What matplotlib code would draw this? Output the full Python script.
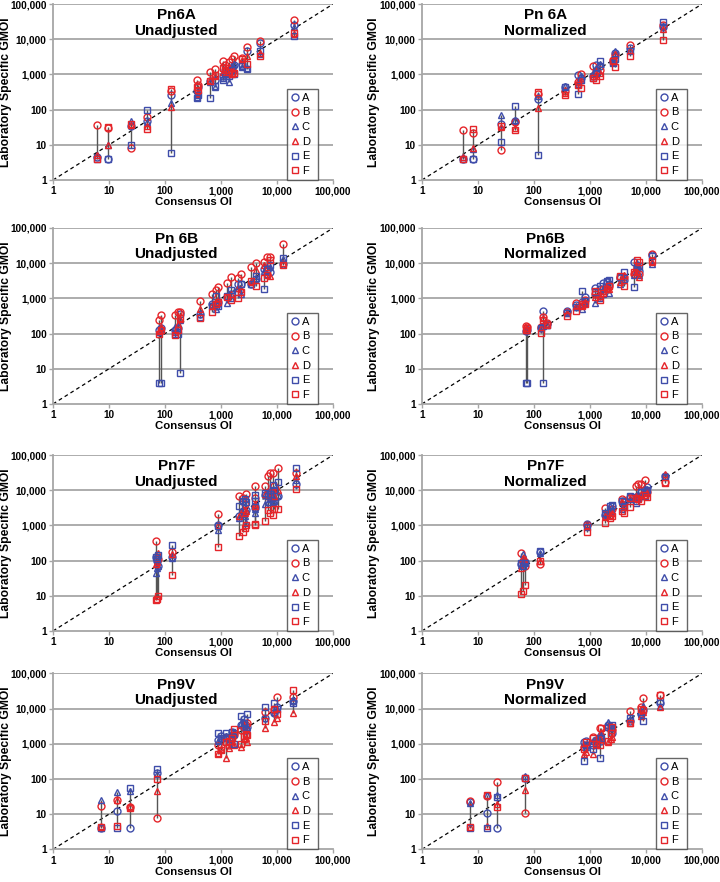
import numpy as np
import matplotlib

matplotlib.use("Agg")
import matplotlib.pyplot as plt
from matplotlib.ticker import FuncFormatter, FixedLocator, NullLocator
from matplotlib.lines import Line2D

plt.rcParams["font.family"] = ["Liberation Sans", "DejaVu Sans"]

# ======================================================
# 1. Data
#    each row = one serum, values for labs A..F
# ======================================================
labs = ["A", "B", "C", "D", "E", "F"]

pn6a_unadj_x = [6.2, 9.4, 25, 47, 126, 370, 390, 630, 790, 1100, 1200, 1380, 1550, 1670, 2350, 2900, 5000, 20000]
pn6a_unadj_y = [
    [4.5, 37, 5, 5, 4, 4],
    [4, 30, 10, 10, 4, 33],
    [35, 8, 48, 36, 10, 38],
    [48, 60, 45, 35, 100, 28],
    [260, 330, 150, 120, 6, 380],
    [330, 700, 230, 280, 220, 450],
    [450, 500, 320, 300, 260, 350],
    [650, 1200, 600, 680, 220, 650],
    [700, 1400, 450, 900, 470, 950],
    [900, 2400, 800, 1200, 700, 1500],
    [1300, 1900, 1100, 1400, 1000, 1300],
    [1000, 2300, 620, 1600, 900, 1200],
    [1500, 2800, 1700, 1100, 1300, 1000],
    [1800, 3300, 2000, 1300, 1000, 1100],
    [2000, 3000, 1600, 2600, 1700, 2800],
    [4500, 6200, 1500, 3300, 1400, 2000],
    [8000, 9200, 3800, 4000, 4500, 3300],
    [25000, 36000, 22000, 14000, 12000, 15000],
]

pn6a_norm_x = [5.5, 8.1, 26, 46, 117, 360, 610, 690, 1120, 1290, 1480, 2550, 2850, 5200, 20000]
pn6a_norm_y = [
    [4, 27, 4.5, 4.5, 4, 4],
    [4, 22, 7.5, 8, 4, 28],
    [40, 7, 70, 33, 12, 35],
    [48, 45, 50, 30, 130, 26],
    [200, 280, 250, 110, 5, 310],
    [440, 330, 480, 300, 450, 260],
    [950, 600, 550, 650, 270, 500],
    [800, 1000, 900, 700, 700, 400],
    [900, 1700, 1000, 900, 800, 800],
    [1800, 1200, 1500, 1000, 1100, 700],
    [1700, 1300, 2000, 1100, 2400, 900],
    [2200, 2500, 2200, 2600, 2100, 2400],
    [4200, 3500, 4600, 3800, 2700, 1650],
    [5500, 7000, 5000, 4800, 4500, 3300],
    [22000, 25000, 24000, 20000, 31000, 9800],
]

pn6b_unadj_x = [78, 85, 150, 170, 185, 425, 680, 800, 870, 1300, 1480, 2000, 2230, 3450, 4200, 5800, 6600, 7400, 13000]
pn6b_unadj_y = [
    [130, 240, 110, 120, 4, 100],
    [140, 340, 130, 150, 4, 130],
    [130, 340, 150, 110, 100, 90],
    [140, 400, 160, 190, 95, 130],
    [350, 420, 240, 260, 7.5, 280],
    [350, 850, 350, 500, 300, 280],
    [700, 1300, 650, 650, 600, 400],
    [600, 1700, 500, 800, 1200, 700],
    [800, 2100, 750, 900, 600, 800],
    [1100, 2700, 750, 1200, 1200, 1100],
    [1300, 4000, 1000, 1300, 1700, 900],
    [2500, 3800, 2000, 2000, 1500, 1000],
    [2600, 5000, 1300, 1800, 2500, 1500],
    [2500, 7800, 2600, 3000, 2500, 3200],
    [3500, 10000, 3800, 6500, 4200, 2200],
    [7000, 10500, 6000, 9000, 1800, 3800],
    [6500, 15000, 5000, 8000, 7000, 4500],
    [5800, 15000, 8000, 4300, 9000, 12000],
    [9500, 36000, 13000, 10000, 14000, 9000],
]

pn6b_norm_x = [72, 76, 133, 147, 170, 390, 570, 730, 810, 1250, 1500, 1730, 2000, 2180, 3460, 3980, 6000, 6900, 7400, 13000]
pn6b_norm_y = [
    [120, 160, 130, 145, 4, 125],
    [130, 150, 140, 130, 4, 140],
    [140, 150, 160, 140, 140, 105],
    [440, 300, 160, 280, 4, 250],
    [190, 200, 180, 190, 170, 170],
    [450, 420, 400, 390, 380, 320],
    [650, 750, 560, 600, 580, 430],
    [800, 700, 500, 650, 1650, 600],
    [1100, 900, 750, 800, 850, 700],
    [2000, 1300, 750, 1100, 1500, 1600],
    [1900, 1200, 1000, 1200, 2200, 900],
    [2800, 1800, 1900, 1600, 1300, 1400],
    [2900, 2000, 2600, 2000, 3100, 1800],
    [2500, 2200, 1400, 1900, 3300, 2300],
    [3700, 4000, 2600, 3000, 4000, 4200],
    [3300, 4000, 3500, 4500, 5800, 2300],
    [11000, 5000, 4500, 5500, 2100, 5500],
    [7000, 8000, 8000, 6000, 9000, 12000],
    [6000, 5000, 4500, 4000, 8500, 11000],
    [17000, 18000, 9500, 11000, 16000, 11500],
]

pn7f_unadj_x = [68, 71, 76, 135, 900, 2100, 2450, 2700, 2830, 4000, 4100, 6000, 7000, 7600, 8400, 8800, 10500, 22000]
pn7f_unadj_y = [
    [130, 350, 45, 80, 130, 7.8],
    [100, 120, 60, 90, 110, 8],
    [70, 110, 70, 160, 140, 10],
    [130, 170, 120, 150, 280, 40],
    [1050, 2100, 750, 1000, 950, 240],
    [1900, 7000, 1600, 1900, 3500, 500],
    [2500, 6000, 2100, 3000, 5000, 650],
    [2400, 4000, 1800, 2200, 5500, 850],
    [2800, 7800, 1200, 2600, 4500, 1000],
    [3200, 13000, 2300, 4000, 7500, 1050],
    [3500, 6000, 3000, 3500, 5000, 1100],
    [7500, 13000, 4000, 8000, 8500, 1300],
    [8000, 25000, 4500, 7000, 7000, 2800],
    [9000, 30000, 5500, 9000, 8000, 2200],
    [6000, 30000, 4500, 10000, 14000, 2000],
    [5000, 13000, 5000, 7000, 10000, 3000],
    [7000, 44000, 7500, 10000, 17000, 3000],
    [15000, 30000, 20000, 25000, 42000, 10500],
]

pn7f_norm_x = [58, 63, 70, 126, 900, 1860, 2300, 2450, 3720, 4000, 5250, 6500, 7300, 8300, 9800, 10300, 22000]
pn7f_norm_y = [
    [80, 160, 75, 60, 85, 11],
    [90, 95, 150, 120, 70, 14],
    [90, 70, 100, 110, 85, 20],
    [180, 80, 160, 100, 190, 95],
    [1100, 1000, 1100, 1000, 900, 650],
    [2000, 3100, 2100, 1900, 2200, 1200],
    [2500, 2000, 3600, 2000, 3500, 1600],
    [3500, 3000, 2500, 2200, 3700, 1800],
    [5000, 5800, 3000, 4500, 5000, 2500],
    [4500, 5000, 3300, 3800, 3500, 2300],
    [6500, 6000, 5500, 6000, 7000, 3400],
    [6500, 13000, 5000, 7000, 4200, 6000],
    [7000, 15000, 6000, 6500, 6000, 5500],
    [9000, 15000, 7000, 8000, 9000, 5000],
    [10000, 20000, 11000, 7000, 7000, 7500],
    [12000, 9000, 10500, 8500, 10000, 6500],
    [25000, 17000, 26000, 29000, 24000, 16000],
]

pn9v_unadj_x = [7.1, 13.8, 24, 73, 870, 1000, 1240, 1410, 1550, 1700, 2300, 2570, 2800, 2950, 6000, 8900, 9800, 19500]
pn9v_unadj_y = [
    [4, 17, 26, 4.5, 4, 4.3],
    [12, 25, 42, 25, 4, 4.7],
    [4, 16, 45, 17, 55, 15],
    [150, 8, 140, 45, 190, 100],
    [1300, 900, 1200, 550, 2000, 500],
    [1700, 800, 1500, 700, 1500, 650],
    [1600, 1500, 1700, 400, 2000, 1100],
    [1500, 900, 1200, 750, 1400, 1200],
    [2200, 1600, 2100, 1000, 2200, 1500],
    [2000, 1800, 1900, 900, 1000, 2600],
    [3500, 2500, 4000, 800, 6000, 1000],
    [5000, 3000, 4200, 1400, 4000, 1700],
    [2500, 3500, 2400, 1500, 2500, 1900],
    [3000, 4000, 3000, 1100, 7000, 1800],
    [5500, 8000, 5500, 2800, 11000, 4500],
    [7500, 9000, 8000, 4200, 14000, 9500],
    [11000, 21000, 10000, 5500, 10000, 7000],
    [16000, 22000, 18000, 7500, 14000, 33000],
]

pn9v_norm_x = [7.2, 14.4, 22, 68, 790, 850, 1120, 1290, 1480, 1600, 2100, 2400, 2500, 5100, 8100, 8900, 17500]
pn9v_norm_y = [
    [22, 24, 21, 4.3, 4, 4.3],
    [11, 33, 35, 4.5, 4, 35],
    [4, 80, 35, 20, 30, 16],
    [110, 11, 120, 50, 110, 110],
    [1100, 800, 1000, 500, 320, 700],
    [1200, 900, 800, 600, 900, 1100],
    [900, 1600, 1200, 500, 700, 1500],
    [1300, 1200, 1300, 900, 1000, 1000],
    [1600, 2800, 2000, 1500, 400, 900],
    [1200, 1400, 1800, 2200, 1500, 2800],
    [3500, 3000, 4200, 1100, 3000, 1200],
    [2500, 3000, 3500, 1400, 2800, 2000],
    [2000, 2500, 3000, 1600, 3500, 3000],
    [4500, 8300, 5000, 4000, 5500, 3800],
    [7000, 11000, 7000, 6000, 8000, 10000],
    [9000, 20000, 12000, 8000, 4500, 9000],
    [14000, 25000, 12000, 11000, 16000, 24000],
]

panel_titles = [
    "Pn6A\nUnadjusted", "Pn 6A\nNormalized",
    "Pn 6B\nUnadjusted", "Pn6B\nNormalized",
    "Pn7F\nUnadjusted", "Pn7F\nNormalized",
    "Pn9V\nUnadjusted", "Pn9V\nNormalized",
]

# ======================================================
# 2. Styling
# ======================================================
BLUE = "#3F4DAA"
RED = "#E5252A"
GRID = "#A6A6A6"
lab_colors = [BLUE, RED, BLUE, RED, BLUE, RED]
lab_markers = ["o", "o", "^", "^", "s", "s"]


def fmt_comma(v, pos):
    return f"{int(round(v)):,}"


def draw_panel(ax, xs, ys, title):
    ys = np.array(ys, dtype=float)
    decades = [1, 10, 100, 1000, 10000, 100000]

    ax.set_xscale("log")
    ax.set_yscale("log")
    ax.set_xlim(1, 100000)
    ax.set_ylim(1, 100000)

    # gridlines
    for d in decades[1:]:
        ax.axhline(d, color=GRID, lw=1.3, zorder=0)

    # identity line
    ax.plot([1, 100000], [1, 100000], ls=(0, (3, 2.5)), color="black", lw=0.9, zorder=1)

    # range bars per serum
    ax.vlines(xs, ys.min(axis=1), ys.max(axis=1), color="#555555", lw=1.0, zorder=2)

    # lab points
    for j, lab in enumerate(labs):
        ax.plot(xs, ys[:, j], ls="none", marker=lab_markers[j], ms=5,
                mfc="none", mec=lab_colors[j], mew=1.0, zorder=3, label=lab)

    ax.text(0.44, 0.975, title, transform=ax.transAxes, ha="center", va="top",
            fontsize=11, fontweight="bold", linespacing=1.1)

    for s in ["top", "right"]:
        ax.spines[s].set_visible(False)
    for s in ["left", "bottom"]:
        ax.spines[s].set_color(GRID)
        ax.spines[s].set_linewidth(1.3)

    ax.xaxis.set_major_locator(FixedLocator(decades))
    ax.yaxis.set_major_locator(FixedLocator(decades))
    ax.xaxis.set_minor_locator(NullLocator())
    ax.yaxis.set_minor_locator(NullLocator())
    ax.xaxis.set_major_formatter(FuncFormatter(fmt_comma))
    ax.yaxis.set_major_formatter(FuncFormatter(fmt_comma))
    ax.tick_params(axis="both", length=3, width=1, color=GRID, labelsize=7.2, pad=1.5)
    for lbl in ax.get_xticklabels() + ax.get_yticklabels():
        lbl.set_fontweight("bold")

    ax.set_xlabel("Consensus OI", fontsize=8.2, fontweight="bold")
    ax.set_ylabel("Laboratory Specific GMOI", fontsize=8.7, fontweight="bold")
    ax.xaxis.set_label_coords(0.5, -0.098)
    ax.yaxis.set_label_coords(-0.148, 0.5)

    handles = [Line2D([], [], ls="none", marker=lab_markers[j], ms=5, mfc="none",
                      mec=lab_colors[j], mew=1.0) for j in range(len(labs))]
    leg = ax.legend(handles, labs, loc="lower left", bbox_to_anchor=(0.835, 0.0, 0.11, 0.49),
                    mode="expand", fontsize=8, handlelength=0.7, handletextpad=0.3,
                    borderaxespad=0.0, borderpad=0.35, labelspacing=0.42,
                    frameon=True, fancybox=False)
    leg.get_frame().set_edgecolor("#404040")
    leg.get_frame().set_linewidth(1.0)


# ======================================================
# 3. Main
# ======================================================
def main():
    panels = [
        (pn6a_unadj_x, pn6a_unadj_y), (pn6a_norm_x, pn6a_norm_y),
        (pn6b_unadj_x, pn6b_unadj_y), (pn6b_norm_x, pn6b_norm_y),
        (pn7f_unadj_x, pn7f_unadj_y), (pn7f_norm_x, pn7f_norm_y),
        (pn9v_unadj_x, pn9v_unadj_y), (pn9v_norm_x, pn9v_norm_y),
    ]

    fig = plt.figure(figsize=(7.2, 8.82), dpi=100)
    row_bottoms = [0.7959, 0.5420, 0.2846, 0.037]
    height = 0.1995
    col_lefts = [0.0736, 0.586]
    width = 0.389

    for i, ((xs, ys), title) in enumerate(zip(panels, panel_titles)):
        r, c = divmod(i, 2)
        ax = fig.add_axes([col_lefts[c], row_bottoms[r], width, height])
        draw_panel(ax, xs, ys, title)

    fig.savefig("out.png", dpi=100)
    plt.close(fig)


if __name__ == "__main__":
    main()
